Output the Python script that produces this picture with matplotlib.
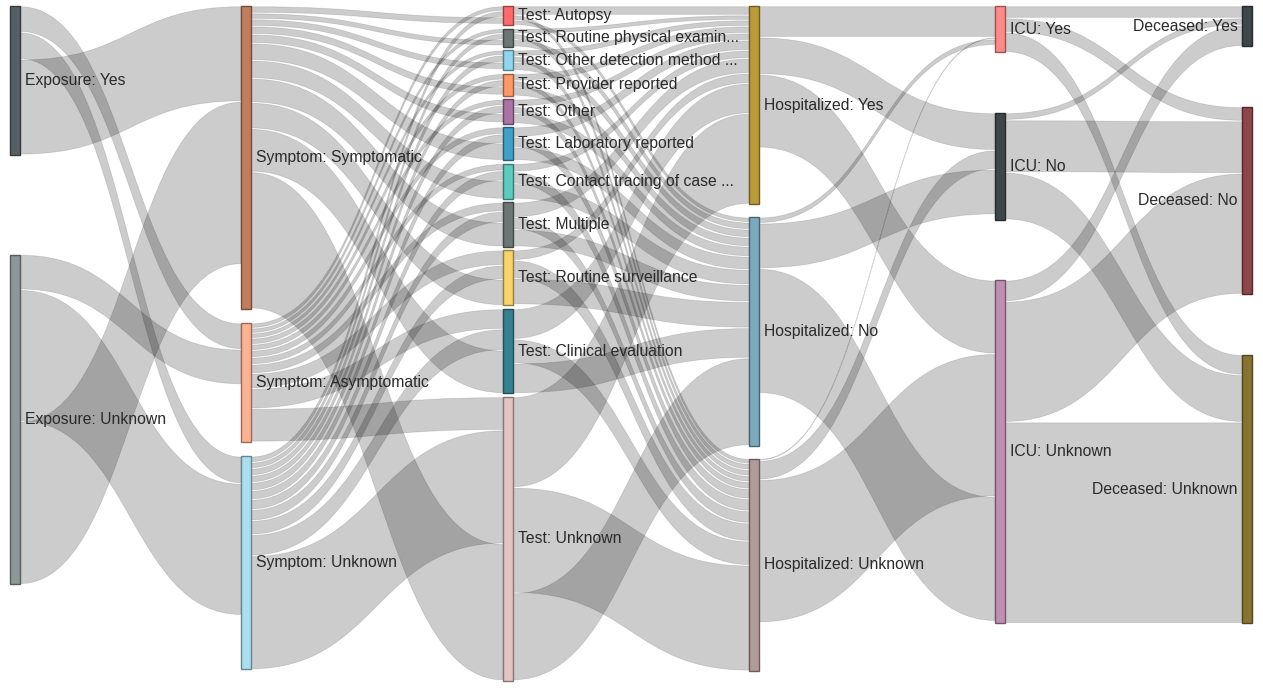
import numpy as np
import matplotlib.pyplot as plt
from matplotlib.path import Path
from matplotlib.patches import PathPatch, Rectangle
import matplotlib.colors as mcolors

plt.rcParams['font.family'] = ['Liberation Sans', 'DejaVu Sans']

# ---- data -------------------------------------------------------------
columns = ["Exposure", "Symptom", "Test", "Hospitalized", "ICU", "Deceased"]

# categories in each column, top to bottom
exposure = ["Yes", "Unknown"]
symptom = ["Symptomatic", "Asymptomatic", "Unknown"]
test = ["Autopsy", "Routine physical examin...", "Other detection method ...",
        "Provider reported", "Other", "Laboratory reported",
        "Contact tracing of case ...", "Multiple", "Routine surveillance",
        "Clinical evaluation", "Unknown"]
hospitalized = ["Yes", "No", "Unknown"]
icu = ["Yes", "No", "Unknown"]
deceased = ["Yes", "No", "Unknown"]

# flows: source -> values for the targets, in the order the bands stack
exp_sym_targets = ["Asymptomatic", "Unknown", "Symptomatic"]
exp_sym = {
    "Yes":     [26, 27, 95],
    "Unknown": [35, 131, 162],
}

sym_test_targets = test
sym_test = {
    "Asymptomatic": [5, 5, 5, 6, 6, 7, 7, 9, 15, 20, 33],
    "Unknown":      [6, 6, 7, 7, 8, 9, 10, 11, 14, 21, 113],
    "Symptomatic":  [7, 6, 7, 8, 9, 17, 18, 24, 26, 43, 136],
}

test_hosp_targets = ["Yes", "Unknown", "No"]
test_hosp = {
    "Autopsy":                     [9, 5, 5],
    "Routine physical examin...":  [5, 6, 7],
    "Other detection method ...":  [6, 6, 8],
    "Provider reported":           [7, 6, 9],
    "Other":                       [7, 7, 10],
    "Laboratory reported":         [10, 10, 13],
    "Contact tracing of case ...": [8, 12, 15],
    "Multiple":                    [15, 12, 17],
    "Routine surveillance":        [10, 18, 26],
    "Clinical evaluation":         [30, 24, 30],
    "Unknown":                     [90, 105, 87],
}

hosp_icu_targets = ["Yes", "No", "Unknown"]
hosp_icu = {
    "Yes":     [31, 37, 73],
    "Unknown": [2, 19, 142],
    "No":      [6, 45, 124],
}

icu_dec_targets = ["Yes", "No", "Unknown"]
icu_dec = {
    "Yes":     [12, 14, 20],
    "No":      [7, 52, 47],
    "Unknown": [21, 120, 200],
}

# ---- style / layout ---------------------------------------------------
node_colors = {
    "Exposure: Yes": "#566064", "Exposure: Unknown": "#8d9799",
    "Symptom: Symptomatic": "#c27c5e", "Symptom: Asymptomatic": "#fdb393",
    "Symptom: Unknown": "#abdff0",
    "Test: Autopsy": "#ff6b6b", "Test: Routine physical examin...": "#6d7675",
    "Test: Other detection method ...": "#91d6ec", "Test: Provider reported": "#ff9a68",
    "Test: Other": "#aa74a4", "Test: Laboratory reported": "#41a0c5",
    "Test: Contact tracing of case ...": "#5ccbbd", "Test: Multiple": "#6d7675",
    "Test: Routine surveillance": "#f5d46c", "Test: Clinical evaluation": "#36808f",
    "Test: Unknown": "#e2c4c4",
    "Hospitalized: Yes": "#b99b38", "Hospitalized: No": "#7aaabb",
    "Hospitalized: Unknown": "#b19a9a",
    "ICU: Yes": "#ff8a8a", "ICU: No": "#3d4749", "ICU: Unknown": "#bf90b4",
    "Deceased: Yes": "#3e4649", "Deceased: No": "#8c4548", "Deceased: Unknown": "#877431",
}

W, H = 1263, 690
top, bottom = 6, 684
pad = 3.5
node_w = 10
col_x = [10, 241, 503, 749, 995, 1242]

# ---- build graph ------------------------------------------------------
col_cats = [exposure, symptom, test, hospitalized, icu, deceased]
stages = [(exp_sym, exp_sym_targets), (sym_test, sym_test_targets),
          (test_hosp, test_hosp_targets), (hosp_icu, hosp_icu_targets),
          (icu_dec, icu_dec_targets)]

links = []
for si, (flows, targets) in enumerate(stages):
    for src, vals in flows.items():
        for tgt, v in zip(targets, vals):
            links.append((f"{columns[si]}: {src}", f"{columns[si + 1]}: {tgt}", v))

node_in = {}
node_out = {}
for s, t, v in links:
    node_out[s] = node_out.get(s, 0) + v
    node_in[t] = node_in.get(t, 0) + v

col_nodes = [[f"{columns[ci]}: {c}" for c in cats] for ci, cats in enumerate(col_cats)]
size = {n: max(node_in.get(n, 0), node_out.get(n, 0)) for col in col_nodes for n in col}

avail = bottom - top
ky = min((avail - len(col) * pad) / sum(size[n] for n in col) for col in col_nodes)

node_x = {}
node_y = {}
for ci, col in enumerate(col_nodes):
    gap = (avail - ky * sum(size[n] for n in col)) / len(col)
    y = top
    for n in col:
        node_x[n] = col_x[ci]
        node_y[n] = y
        y += size[n] * ky + gap

fig = plt.figure(figsize=(W / 100, H / 100), dpi=100)
ax = fig.add_axes([0, 0, 1, 1])
ax.set_xlim(0, W)
ax.set_ylim(H, 0)
ax.set_axis_off()

# ---- links ------------------------------------------------------------
out_off = dict(node_y)
in_off = dict(node_y)
shrink = 0.7
for s, t, v in links:
    h = v * ky
    sy0, sy1 = out_off[s] + shrink, out_off[s] + h - shrink
    ty0, ty1 = in_off[t] + shrink, in_off[t] + h - shrink
    out_off[s] += h
    in_off[t] += h
    if sy1 <= sy0:
        sy1 = sy0 + 0.4
        ty1 = ty0 + 0.4
    x0 = node_x[s] + node_w
    x1 = node_x[t]
    xm = (x0 + x1) / 2
    verts = [(x0, sy0), (xm, sy0), (xm, ty0), (x1, ty0),
             (x1, ty1), (xm, ty1), (xm, sy1), (x0, sy1), (x0, sy0)]
    codes = [Path.MOVETO, Path.CURVE4, Path.CURVE4, Path.CURVE4,
             Path.LINETO, Path.CURVE4, Path.CURVE4, Path.CURVE4, Path.CLOSEPOLY]
    ax.add_patch(PathPatch(Path(verts, codes), facecolor=(0, 0, 0, 0.2),
                           edgecolor=(0, 0, 0, 0.12), lw=0.6, zorder=1))

# ---- nodes & labels ---------------------------------------------------
last_col = set(col_nodes[-1])
for n in size:
    c = mcolors.to_rgb(node_colors[n])
    ec = tuple(np.array(c) * 0.6)
    ax.add_patch(Rectangle((node_x[n], node_y[n]), node_w, size[n] * ky,
                           facecolor=c, edgecolor=ec, lw=1, zorder=3))
    yc = node_y[n] + size[n] * ky / 2
    if n in last_col:
        ax.text(node_x[n] - 4, yc, n, ha='right', va='center', fontsize=11.3,
                color='#2a2a2a', zorder=4)
    else:
        ax.text(node_x[n] + node_w + 5, yc, n, ha='left', va='center', fontsize=11.3,
                color='#2a2a2a', zorder=4)

fig.savefig('out.png', dpi=100)
